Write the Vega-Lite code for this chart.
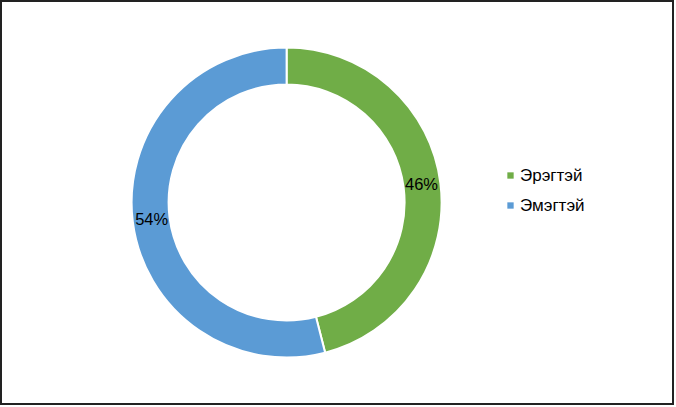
{
  "$schema": "https://vega.github.io/schema/vega-lite/v6.json",
  "width": 676,
  "height": 407,
  "autosize": {"type": "fit", "contains": "padding"},
  "padding": {"left": 1, "top": 1, "right": 3, "bottom": 3},
  "background": "white",
  "config": {
    "view": {"stroke": "#222222", "strokeWidth": 2},
    "font": "Liberation Sans"
  },
  "data": {
    "values": [
      {"gender": "Эрэгтэй", "share": 46, "label": "46%", "rank": 1},
      {"gender": "Эмэгтэй", "share": 54, "label": "54%", "rank": 2}
    ]
  },
  "encoding": {
    "theta": {"field": "share", "type": "quantitative", "stack": true},
    "order": {"field": "rank", "type": "quantitative"},
    "x": {"datum": 0.425, "type": "quantitative", "scale": {"domain": [0, 1], "nice": false, "zero": true}, "axis": null}
  },
  "layer": [
    {
      "mark": {"type": "arc", "outerRadius": 155, "innerRadius": 118, "stroke": "white", "strokeWidth": 2},
      "encoding": {
        "color": {
          "field": "gender",
          "type": "nominal",
          "sort": ["Эрэгтэй", "Эмэгтэй"],
          "scale": {"domain": ["Эрэгтэй", "Эмэгтэй"], "range": ["#70AD47", "#5B9BD5"]},
          "legend": {
            "title": null,
            "orient": "none",
            "legendX": 501,
            "legendY": 166,
            "symbolType": "square",
            "symbolSize": 40,
            "symbolStrokeWidth": 0,
            "labelFont": "Liberation Sans",
            "labelFontSize": 17,
            "labelColor": "#000000",
            "labelOffset": 1,
            "rowPadding": 12
          }
        }
      }
    },
    {
      "mark": {"type": "text", "radius": 136, "fontSize": 16.5, "font": "Liberation Sans", "color": "#000000"},
      "encoding": {
        "text": {"field": "label", "type": "nominal"}
      }
    }
  ]
}
